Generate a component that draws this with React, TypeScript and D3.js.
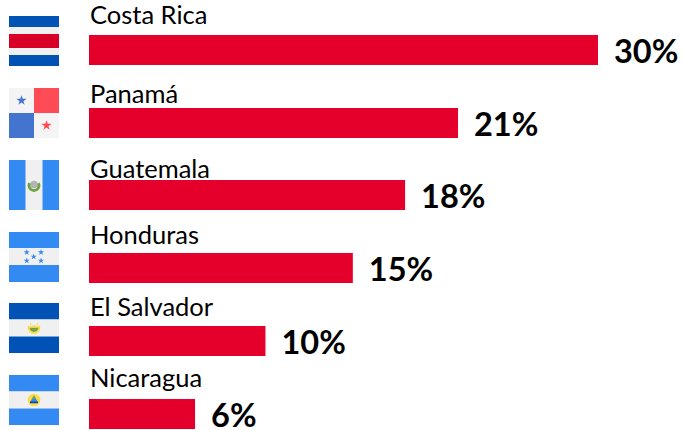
import React from "react";
import * as d3 from "d3";

const countries = ["Costa Rica", "Panamá", "Guatemala", "Honduras", "El Salvador", "Nicaragua"];
const barValues = [30, 21.75, 18.63, 15.55, 10.4, 6.25];
const valueLabels = ["30%", "21%", "18%", "15%", "10%", "6%"];
const flagKinds = ["cr", "pa", "gt", "hn", "sv", "ni"];
const barTops = [35, 108, 180, 253, 326, 399];
const flagTops = [16, 88, 160, 232, 303, 375];
const labelBaselines = [24, 103, 178, 244, 316, 387];

const RED = "#e4002b";
const FONT = "Lato, Carlito, 'Open Sans', sans-serif";
const x = d3.scaleLinear().domain([0, 30]).range([89, 598]);
const star = d3.symbol().type(d3.symbolStar);

function Stars({ pts, size, fill }: { pts: number[][]; size: number; fill: string }) {
  return <>{pts.map((p, i) => <path key={i} d={star.size(size)() as string} transform={`translate(${p[0]},${p[1]})`} fill={fill} />)}</>;
}

function Bands({ bands }: { bands: [number, number, string][] }) {
  return <>{bands.map((b, i) => <rect key={i} x={0} y={b[0]} width={50} height={b[1]} fill={b[2]} />)}</>;
}

function Flag({ kind }: { kind: string }) {
  if (kind === "cr") return <Bands bands={[[0, 11, "#0052b4"], [11, 7, "#f0f0f0"], [18, 14, "#d80027"], [32, 7, "#f0f0f0"], [39, 11, "#0052b4"]]} />;
  if (kind === "pa") return <g>
    <rect width={50} height={50} fill="#f4f4f4" />
    <rect x={25} width={25} height={25} fill="#ff4b55" />
    <rect y={25} width={25} height={25} fill="#4375cf" />
    <Stars pts={[[12.5, 12.5]]} size={32} fill="#4375cf" />
    <Stars pts={[[37.5, 37.5]]} size={32} fill="#ff4b55" />
  </g>;
  if (kind === "gt") return <g>
    <rect width={50} height={50} fill="#338af3" />
    <rect x={16.5} width={17} height={50} fill="#f0f0f0" />
    <circle cx={25} cy={24.5} r={3.8} fill="#b4b4b4" />
    <path d={d3.arc()({ innerRadius: 3.6, outerRadius: 6.4, startAngle: Math.PI * 0.35, endAngle: Math.PI * 1.65 }) as string} transform="translate(25,25.5)" fill="#6da544" />
  </g>;
  if (kind === "hn") return <g>
    <Bands bands={[[0, 16, "#338af3"], [16, 17, "#f0f0f0"], [33, 17, "#338af3"]]} />
    <Stars pts={[[17.7, 20.3], [32, 20.3], [24.7, 24.7], [17.7, 28.7], [32, 28.7]]} size={12} fill="#338af3" />
  </g>;
  if (kind === "sv") return <g>
    <Bands bands={[[0, 16.5, "#0052b4"], [16.5, 17, "#f0f0f0"], [33.5, 16.5, "#0052b4"]]} />
    <path d={d3.arc()({ innerRadius: 4.4, outerRadius: 6.4, startAngle: Math.PI * 0.4, endAngle: Math.PI * 1.6 }) as string} transform="translate(25,24.5)" fill="#ffda44" />
    <path d="M21,19.5 L23,22.5 H27 L29,19.5 V22 H21 Z" fill="#ffda44" />
    <path d="M20.6,24.5 H29.4 A4.4,4.4 0 0 1 20.6,24.5 Z" fill="#6da544" />
    <rect x={21} y={23} width={8} height={1.5} fill="#ffda44" />
  </g>;
  return <g>
    <Bands bands={[[0, 16.5, "#338af3"], [16.5, 17, "#f0f0f0"], [33.5, 16.5, "#338af3"]]} />
    <circle cx={25} cy={25} r={6.3} fill="#ffda44" />
    <path d="M25,20.5 L29.5,28 H20.5 Z" fill="#338af3" />
    <path d="M25,20.5 L27,24 H23 Z" fill="#6da544" />
    <rect x={21} y={26.5} width={8} height={1.8} fill="#0052b4" />
  </g>;
}

export default function App() {
  return (
    <svg width={684} height={430} style={{ position: "absolute", left: 0, top: 0, background: "#fff" }}>
      {countries.map((c, i) => (
        <g key={c}>
          <g transform={`translate(9,${flagTops[i]})`}><Flag kind={flagKinds[i]} /></g>
          <rect x={x(0)} y={barTops[i]} width={x(barValues[i]) - x(0)} height={30} fill={RED} />
          <text x={90} y={labelBaselines[i]} fontFamily={FONT} fontSize={25.5} fill="#000">{c}</text>
          <text x={x(barValues[i]) + 16} y={barTops[i] + 28} fontFamily={FONT} fontSize={32.5} fontWeight={700} fill="#000">{valueLabels[i]}</text>
        </g>
      ))}
    </svg>
  );
}
